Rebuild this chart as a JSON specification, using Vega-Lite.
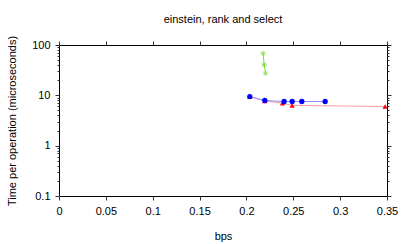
{
  "$schema": "https://vega.github.io/schema/vega-lite/v6.json",
  "autosize": "none",
  "width": 328,
  "height": 151,
  "padding": {"left": 59, "top": 45, "right": 20, "bottom": 48},
  "background": "white",
  "title": {"text": "einstein, rank and select", "fontSize": 11, "fontWeight": "normal", "font": "Liberation Sans", "color": "#000000", "offset": 10},
  "config": {
    "view": {"stroke": "#000000", "strokeWidth": 1},
    "font": "Liberation Sans",
    "axis": {"labelFont": "Liberation Sans", "labelFontSize": 11, "labelColor": "#000000", "titleFont": "Liberation Sans", "titleFontSize": 11, "titleFontWeight": "normal", "titleColor": "#000000", "domain": false, "grid": false}
  },
  "data": {"values": [
    {"series": "green", "bps": 0.2178, "time": 68.5, "ord": 1},
    {"series": "green", "bps": 0.2189, "time": 40.2, "ord": 2},
    {"series": "green", "bps": 0.2204, "time": 27.5, "ord": 3},
    {"series": "red", "bps": 0.2036, "time": 9.4, "ord": 1},
    {"series": "red", "bps": 0.2196, "time": 7.7, "ord": 2},
    {"series": "red", "bps": 0.2385, "time": 7.0, "ord": 3},
    {"series": "red", "bps": 0.2488, "time": 6.3, "ord": 4},
    {"series": "red", "bps": 0.348, "time": 6.0, "ord": 5},
    {"series": "blue", "bps": 0.2036, "time": 9.47, "ord": 1},
    {"series": "blue", "bps": 0.2196, "time": 7.89, "ord": 2},
    {"series": "blue", "bps": 0.2402, "time": 7.54, "ord": 3},
    {"series": "blue", "bps": 0.2488, "time": 7.54, "ord": 4},
    {"series": "blue", "bps": 0.2591, "time": 7.54, "ord": 5},
    {"series": "blue", "bps": 0.284, "time": 7.54, "ord": 6}
  ]},
  "resolve": {"axis": {"x": "independent", "y": "independent"}, "scale": {"color": "independent", "shape": "independent"}},
  "layer": [
    {
      "mark": {"type": "line", "strokeWidth": 1, "clip": true},
      "encoding": {
        "x": {"field": "bps", "type": "quantitative", "scale": {"domain": [0, 0.35], "nice": false},
          "axis": {"orient": "bottom", "title": "bps", "values": [0, 0.05, 0.1, 0.15, 0.2, 0.25, 0.3, 0.35], "format": "~g", "ticks": true, "tickSize": 4, "tickColor": "#333333", "labelPadding": 5, "titlePadding": 14, "labelFlush": false}},
        "y": {"field": "time", "type": "quantitative", "scale": {"type": "log", "domain": [0.1, 100], "nice": false},
          "axis": {"orient": "left", "title": "Time per operation (microseconds)", "values": [0.1,0.2,0.3,0.4,0.5,0.6,0.7,0.8,0.9,1,2,3,4,5,6,7,8,9,10,20,30,40,50,60,70,80,90,100],
            "labelExpr": "abs(log(datum.value)/LN10 - round(log(datum.value)/LN10)) < 1e-6 ? format(datum.value, '~g') : ''",
            "ticks": true, "tickColor": "#333333",
            "tickSize": {"condition": {"test": "abs(log(datum.value)/LN10 - round(log(datum.value)/LN10)) < 1e-6", "value": 4}, "value": 2},
            "labelPadding": 5, "titlePadding": 14}},
        "color": {"field": "series", "type": "nominal", "legend": null, "scale": {"domain": ["blue", "red", "green"], "range": ["#8c8cff", "#ff9a9a", "#7ddc3a"]}},
        "order": {"field": "ord", "type": "quantitative"}
      }
    },
    {
      "transform": [{"filter": "datum.series !== 'green'"}],
      "mark": {"type": "point", "filled": true, "size": 28, "opacity": 1, "clip": true},
      "encoding": {
        "x": {"field": "bps", "type": "quantitative", "axis": {"orient": "top", "title": null, "labels": false, "values": [0, 0.05, 0.1, 0.15, 0.2, 0.25, 0.3, 0.35], "tickSize": 4, "tickColor": "#333333"}},
        "y": {"field": "time", "type": "quantitative",
          "axis": {"orient": "right", "title": null, "labels": false, "values": [0.1,0.2,0.3,0.4,0.5,0.6,0.7,0.8,0.9,1,2,3,4,5,6,7,8,9,10,20,30,40,50,60,70,80,90,100], "tickColor": "#333333",
            "tickSize": {"condition": {"test": "abs(log(datum.value)/LN10 - round(log(datum.value)/LN10)) < 1e-6", "value": 4}, "value": 2}}},
        "color": {"field": "series", "type": "nominal", "legend": null, "scale": {"domain": ["blue", "red"], "range": ["#0000ff", "#ff0000"]}},
        "shape": {"field": "series", "type": "nominal", "legend": null, "scale": {"domain": ["blue", "red"], "range": ["circle", "triangle-up"]}}
      }
    },
    {
      "transform": [{"filter": "datum.series === 'green'"}],
      "mark": {"type": "point", "filled": false, "size": 28, "strokeWidth": 1, "color": "#6fd82a", "shape": "M-1,0L1,0M0,-1L0,1M-0.7,-0.7L0.7,0.7M-0.7,0.7L0.7,-0.7"},
      "encoding": {
        "x": {"field": "bps", "type": "quantitative", "axis": null},
        "y": {"field": "time", "type": "quantitative", "axis": null}
      }
    }
  ]
}
